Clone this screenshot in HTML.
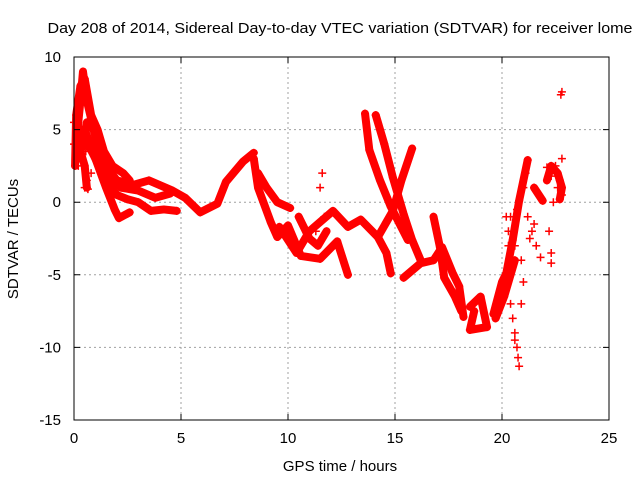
<!DOCTYPE html>
<html><head><meta charset="utf-8">
<style>
html,body{margin:0;padding:0;background:#fff;}
svg{display:block;font-family:"Liberation Sans",sans-serif;}
</style></head>
<body>
<svg id="chart" width="640" height="480" viewBox="0 0 640 480" xmlns="http://www.w3.org/2000/svg">
<text x="340" y="33" font-size="15" text-anchor="middle" textLength="585" lengthAdjust="spacingAndGlyphs">Day 208 of 2014, Sidereal Day-to-day VTEC variation (SDTVAR) for receiver lome</text>
<g id="grid"></g>
<g id="tracks"></g>
<g id="scatter"></g>
<rect x="74" y="57" width="535" height="363" fill="none" stroke="#000" stroke-width="1"/>
<g id="axes" font-size="15"></g>
<text x="340" y="471" font-size="15" text-anchor="middle">GPS time / hours</text>
<text x="18" y="239" font-size="15" text-anchor="middle" transform="rotate(-90 18 239)">SDTVAR / TECUs</text>
</svg>
<script>
const xTicks = [0, 5, 10, 15, 20, 25];
const yTicks = [10, 5, 0, -5, -10, -15];
const track1 = [[0.1,4],[0.3,7],[0.42,9],[0.6,7],[1,4.5],[1.5,2.5],[2,1.5],[2.8,1.2],[3.5,1.5],[4.6,0.8],[5.2,0.3],[5.9,-0.7],[6.7,-0.1],[7.1,1.4],[7.9,2.8],[8.4,3.4]];
const track2 = [[0.3,5],[1,3],[1.5,1.5],[2,0.5],[2.5,0.2],[3,0],[3.6,-0.6],[4.2,-0.5],[4.8,-0.6]];
const track3 = [[0.5,5],[1,3],[1.5,1],[1.9,-0.5],[2.1,-1.1],[2.6,-0.7]];
const track16 = [[0.05,2.5],[0.1,6],[0.3,8],[0.5,8.5],[0.8,6],[1.1,5],[1.4,3.5],[1.8,2.5],[2.3,2],[2.6,1.5]];
const track17 = [[0.2,3],[0.4,4],[0.6,5.5],[0.9,5],[1.2,4],[1.6,2],[2.2,1],[3,0.8],[3.8,0.3],[4.5,0.6]];
const track18 = [[0.1,5],[0.3,3.5],[0.5,2.5],[0.6,1]];
const track4 = [[8.4,3],[8.6,1],[9.2,-1.4],[9.5,-2.4],[10,-1.6],[10.6,-3.7],[11.5,-3.9],[12.3,-2.7],[12.8,-5]];
const track5 = [[8.6,2],[9,1],[9.5,0],[10.1,-0.4]];
const track6 = [[9.6,-1.7],[10.4,-3.5],[11,-2],[12.1,-0.6],[12.8,-1.7],[13.4,-1.2],[14.2,-2.4],[14.6,-3.5],[14.8,-4.9]];
const track7 = [[13.6,6.1],[13.8,3.6],[14.3,1.5],[14.8,-0.3],[15.6,-2.6]];
const track8 = [[14.1,6],[14.5,4],[14.9,1.7],[15.4,-0.8],[15.8,-2.6],[16.2,-4]];
const track9 = [[14.2,-2.4],[14.9,-0.6],[15.3,1.5],[15.8,3.7]];
const track10 = [[15.4,-5.2],[16.2,-4.2],[16.8,-4],[17.2,-3.1],[17.7,-4.9],[18,-5.8],[18.2,-7.9]];
const track11 = [[16.8,-1],[17.1,-3.1],[17.3,-5.2],[17.8,-6.5],[18.1,-7.5]];
const track12 = [[18.5,-7.2],[19,-6.5],[19.3,-8.6],[18.5,-8.8],[18.7,-7.5]];
const track13 = [[19.6,-7.7],[20,-5.5],[20.2,-4.9],[20.5,-2.6],[20.8,0.1],[21.2,2.9]];
const track19 = [[19.7,-8],[20.1,-6.5],[20.4,-5],[20.6,-4]];
const track14 = [[10.5,-1],[11,-2.5],[11.4,-3],[11.8,-2]];
const track15 = [[21.5,1],[21.9,0.1]];
const track20 = [[22.1,1.5],[22.3,2.5],[22.6,2],[22.8,1],[22.7,0.2]];
const tracks = [track1, track2, track3, track16, track17, track18, track4, track5, track6, track7, track8, track9, track10, track11, track12, track13, track19, track14, track15, track20];
const scatterPts = [[0,4],[0,5.5],[0.1,3],[0.2,2.5],[0.5,1],[0.6,1.5],[0.55,3.5],[0.65,0.9],[0.8,2],[11.5,1],[11.6,2],[11.7,-1],[11.3,-2],[20.4,-7],[20.5,-8],[20.6,-9],[20.7,-10],[20.8,-11.3],[20.6,-9.5],[20.75,-10.7],[20.9,-4],[20.4,-1],[20.7,-0.5],[20.3,-2],[20.6,-3],[21.2,-1],[21.4,-2],[21.6,-3],[21.8,-3.8],[21.3,-2.5],[21.5,-1.5],[22.1,2.4],[22.3,1.8],[22.5,2.5],[22.7,1.5],[22.8,0.5],[22.4,0],[22.2,-2],[22.3,-4.2],[22.3,-3.5],[22.6,1],[22.75,7.4],[22.8,7.6],[22.8,3],[21.1,2],[21,1],[20.3,-3],[20.2,-1],[20.9,-7],[21,-5.5]];
const X0 = 74, X1 = 609, Y0 = 420, Y1 = 57;
function sx(v){ return X0 + (v - 0) / 25 * (X1 - X0); }
function sy(v){ return Y0 - (v + 15) / 25 * (Y0 - Y1); }
const NS = "http://www.w3.org/2000/svg";
const grid = document.getElementById('grid');
const axes = document.getElementById('axes');
function mk(tag, attrs, parent){ const e = document.createElementNS(NS, tag); for (const k in attrs) e.setAttribute(k, attrs[k]); parent.appendChild(e); return e; }
xTicks.forEach(t => {
  const x = sx(t);
  if (t > 0 && t < 25) {
    const g = mk('line', {x1:x, y1:Y1, x2:x, y2:Y0, stroke:'#a0a0a0', 'stroke-dasharray':'2,3'}, grid);
    
    
  }
  const tk = mk('path', {d:`M${x},${Y0}v-6M${x},${Y1}v6`, stroke:'#000'}, axes);
  
  
  const lb = mk('text', {x:x, y:443, 'text-anchor':'middle'}, axes);
  lb.textContent = t;
  
  
});
yTicks.forEach(t => {
  const y = sy(t);
  if (t > -15 && t < 10) {
    const g = mk('line', {x1:X0, y1:y, x2:X1, y2:y, stroke:'#a0a0a0', 'stroke-dasharray':'2,3'}, grid);
    
    
  }
  const tk = mk('path', {d:`M${X0},${y}h6M${X1},${y}h-6`, stroke:'#000'}, axes);
  
  
  const lb = mk('text', {x:61, y:y + 5, 'text-anchor':'end'}, axes);
  lb.textContent = t;
  
  
});
const tg = document.getElementById('tracks');
tracks.forEach(tr => {
  const pl = mk('polyline', {points: tr.map(p => sx(p[0]) + ',' + sy(p[1])).join(' '), fill:'none', stroke:'#ff0000', 'stroke-width':8, 'stroke-linejoin':'round', 'stroke-linecap':'round'}, tg);
  
  
  tr.forEach(p => {
    const m = mk('path', {d:`M${sx(p[0])-4},${sy(p[1])}h8M${sx(p[0])},${sy(p[1])-4}v8`, stroke:'#ff0000', 'stroke-width':1.5}, tg);
    
    
  });
});
const sg = document.getElementById('scatter');
scatterPts.forEach(p => {
  const m = mk('path', {d:`M${sx(p[0])-4},${sy(p[1])}h8M${sx(p[0])},${sy(p[1])-4}v8`, stroke:'#ff0000', 'stroke-width':1.5}, sg);
  
  
});
</script>
</body></html>
